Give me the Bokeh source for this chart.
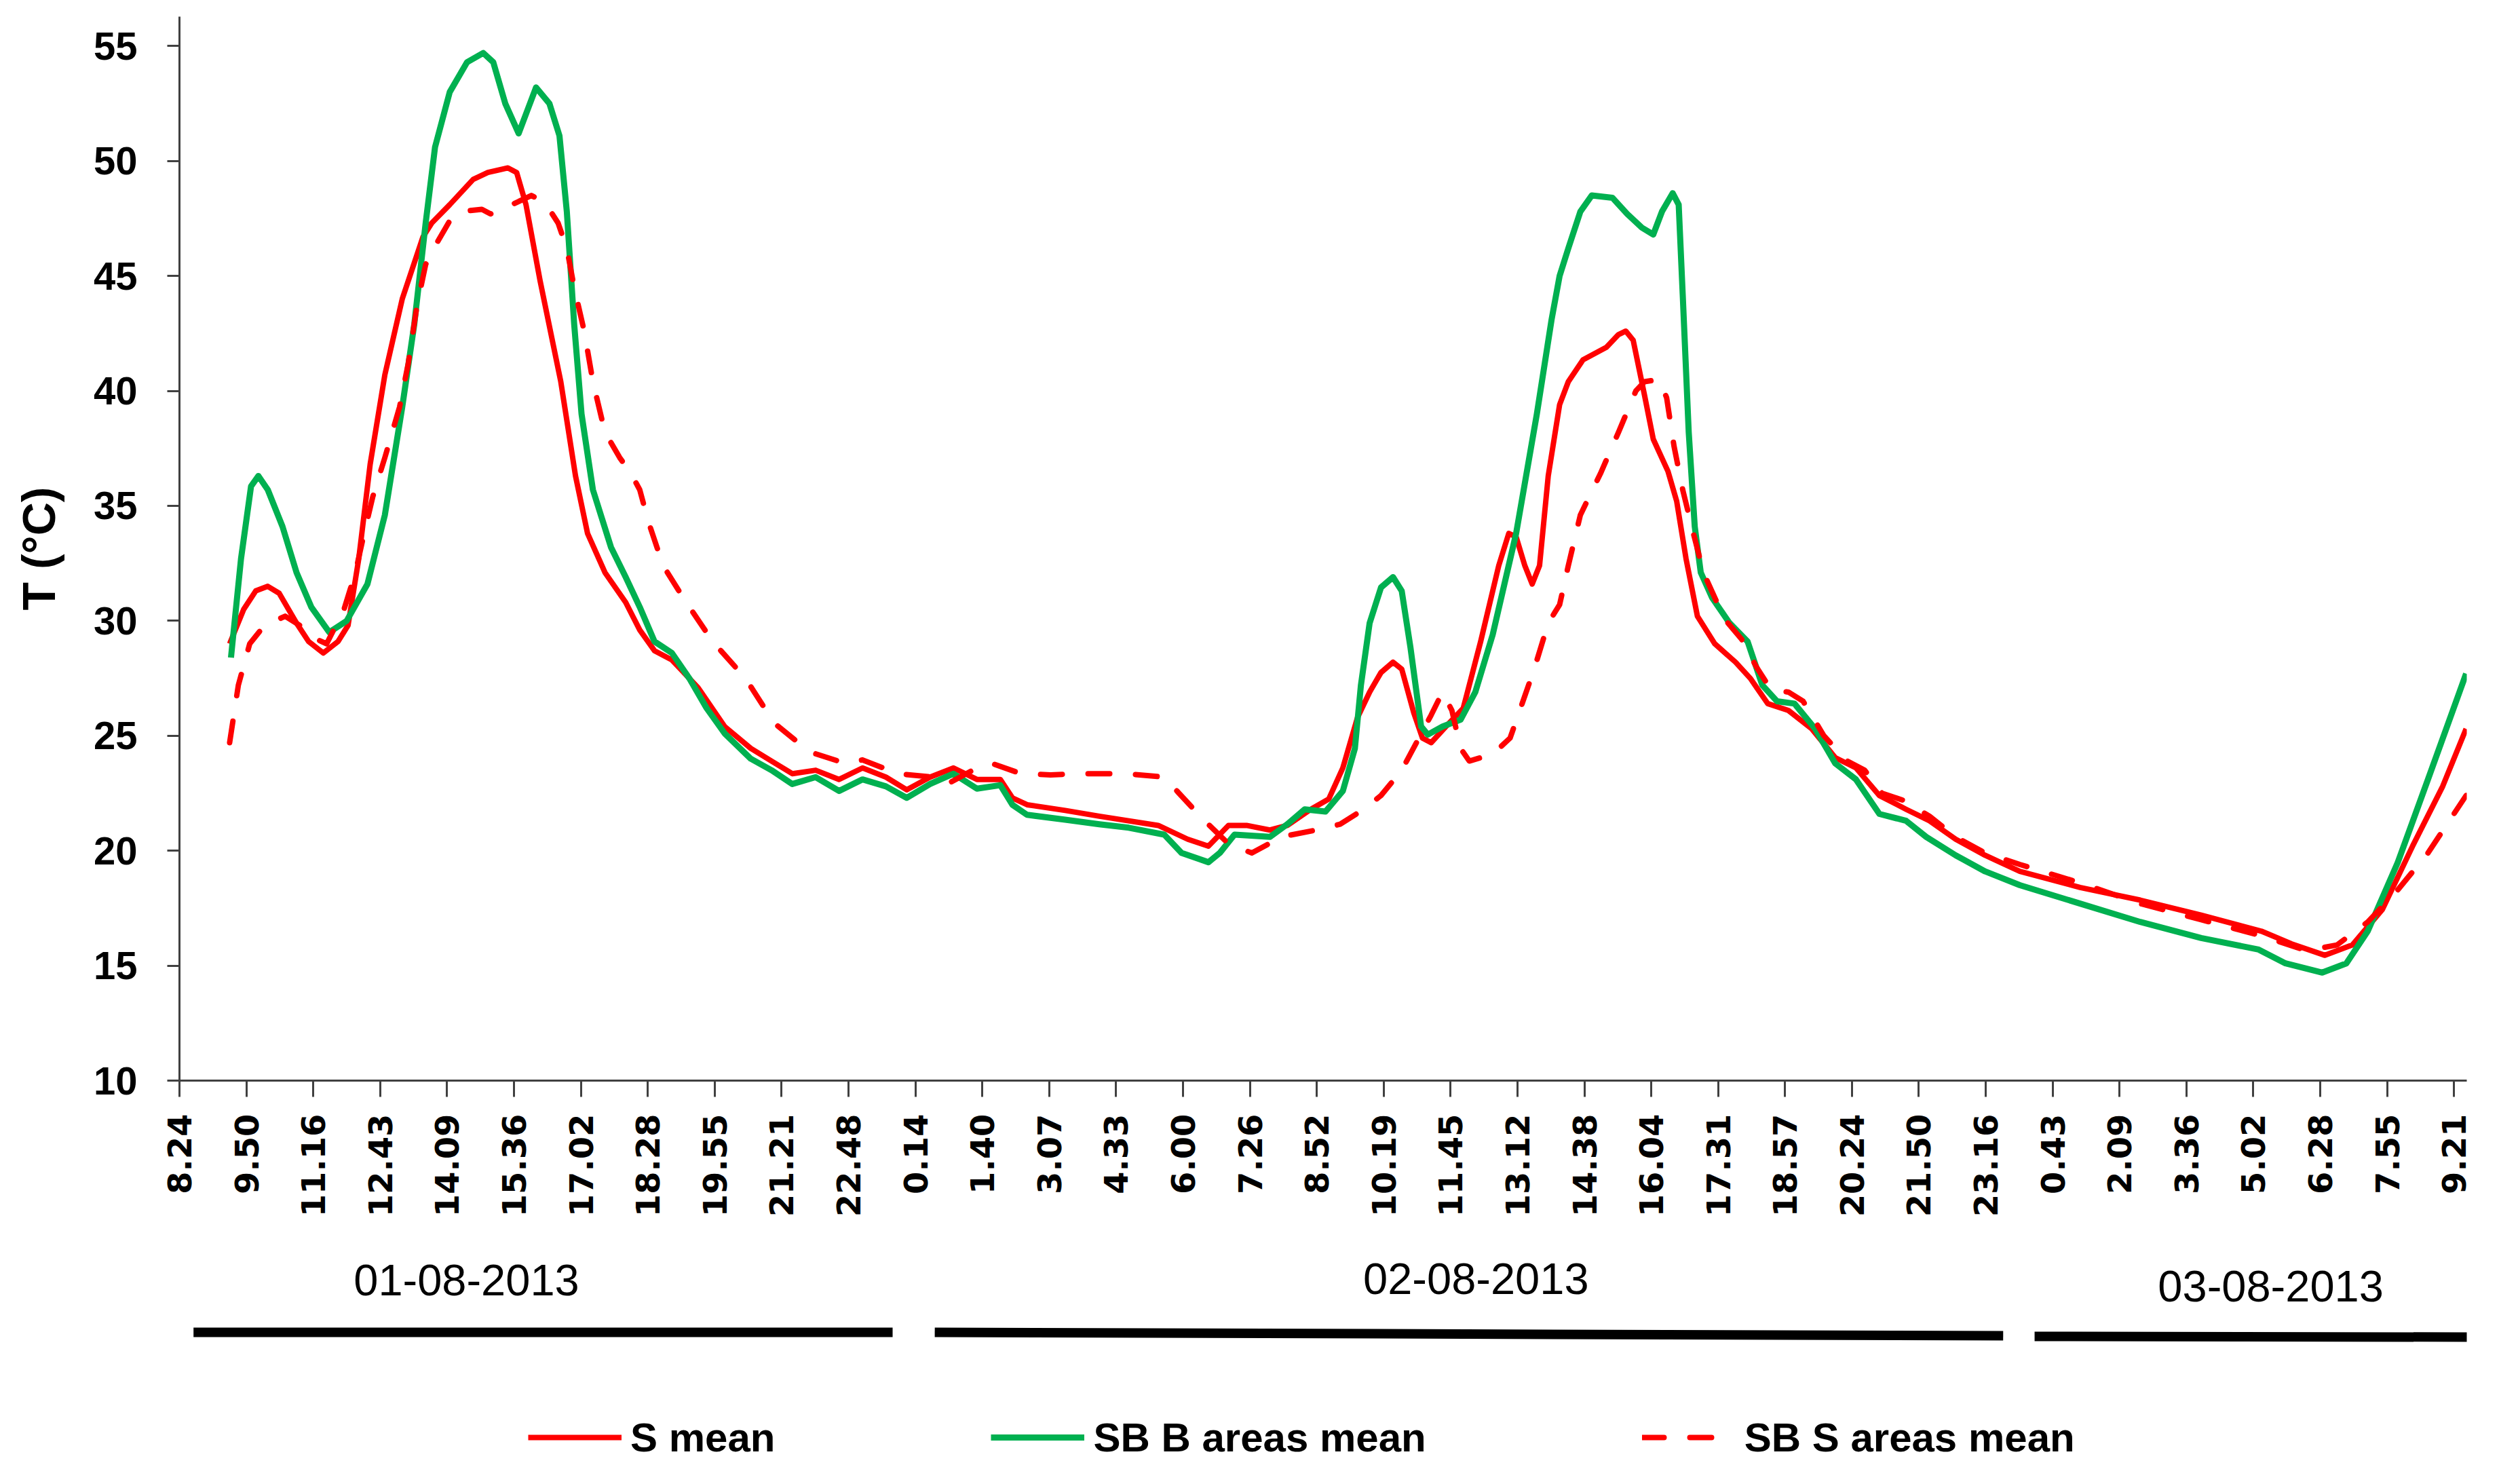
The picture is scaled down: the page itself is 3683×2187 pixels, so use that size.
from math import pi
from bokeh.plotting import figure
from bokeh.models import Range1d, FixedTicker, Legend, LegendItem, ColumnDataSource
from bokeh.layouts import column
from bokeh.embed import file_html
from bokeh.resources import INLINE
from bokeh.core.properties import value

# ---------------- data ----------------
# x position in units of the category-axis tick interval (tick i = label i)
tick_labels = ["8.24", "9.50", "11.16", "12.43", "14.09", "15.36", "17.02", "18.28", "19.55",
               "21.21", "22.48", "0.14", "1.40", "3.07", "4.33", "6.00", "7.26", "8.52",
               "10.19", "11.45", "13.12", "14.38", "16.04", "17.31", "18.57", "20.24",
               "21.50", "23.16", "0.43", "2.09", "3.36", "5.02", "6.28", "7.55", "9.21"]

s_mean_t = [0.75, 0.96, 1.14, 1.32, 1.49, 1.75, 1.93, 2.15, 2.37, 2.52,
            2.68, 2.85, 3.07, 3.33, 3.64, 3.77, 4.04, 4.39, 4.61, 4.91,
            5.04, 5.18, 5.39, 5.70, 5.92, 6.10, 6.36, 6.67, 6.88, 7.10,
            7.36, 7.75, 8.15, 8.54, 8.85, 9.16, 9.51, 9.86, 10.21, 10.56,
            10.87, 11.22, 11.57, 11.92, 12.27, 12.45, 12.67, 13.24, 13.75, 14.63,
            15.07, 15.38, 15.68, 15.95, 16.30, 16.56, 16.91, 17.18, 17.39, 17.61,
            17.79, 17.96, 18.14, 18.27, 18.45, 18.58, 18.71, 18.93, 19.19, 19.45,
            19.72, 19.87, 19.98, 20.11, 20.22, 20.33, 20.46, 20.63, 20.76, 20.98,
            21.33, 21.51, 21.62, 21.73, 21.90, 22.03, 22.25, 22.38, 22.52, 22.69,
            22.95, 23.26, 23.48, 23.74, 24.05, 24.40, 24.75, 25.06, 25.41, 25.81,
            26.16, 26.55, 26.99, 27.51, 28.41, 29.31, 30.22, 31.12, 31.57, 32.07,
            32.48, 32.93, 33.38, 33.83, 34.18]
s_mean_v = [29.0, 30.5, 31.3, 31.5, 31.2, 29.9, 29.1, 28.6, 29.1, 29.8,
            32.7, 36.8, 40.7, 44.0, 46.7, 47.3, 48.1, 49.2, 49.5, 49.7,
            49.5, 48.1, 44.8, 40.4, 36.3, 33.8, 32.1, 30.8, 29.6, 28.7,
            28.3, 27.1, 25.4, 24.45, 23.9, 23.35, 23.5, 23.1, 23.6, 23.2,
            22.65, 23.2, 23.6, 23.1, 23.1, 22.3, 22.0, 21.75, 21.5, 21.1,
            20.5, 20.2, 21.1, 21.1, 20.9, 21.1, 21.8, 22.25, 23.6, 25.8,
            26.9, 27.75, 28.2, 27.9, 26.0, 24.9, 24.7, 25.4, 26.2, 29.1,
            32.4, 33.8, 33.65, 32.4, 31.6, 32.4, 36.3, 39.4, 40.4, 41.35,
            41.9, 42.45, 42.6, 42.2, 39.8, 37.9, 36.5, 35.2, 32.7, 30.2,
            29.0, 28.2, 27.5, 26.4, 26.1, 25.3, 24.05, 23.6, 22.4, 21.8,
            21.3, 20.5, 19.8, 19.1, 18.4, 17.85, 17.2, 16.5, 15.95, 15.45,
            15.9, 17.45, 20.2, 22.8, 25.3]

sbb_t = [0.77, 0.92, 1.07, 1.18, 1.32, 1.54, 1.75, 1.97, 2.24, 2.50,
         2.81, 3.07, 3.33, 3.51, 3.68, 3.82, 4.04, 4.30, 4.54, 4.69,
         4.87, 5.07, 5.20, 5.33, 5.53, 5.68, 5.79, 5.90, 6.01, 6.18,
         6.45, 6.67, 6.88, 7.10, 7.36, 7.62, 7.88, 8.15, 8.54, 8.85,
         9.16, 9.51, 9.86, 10.21, 10.56, 10.87, 11.22, 11.57, 11.92, 12.27,
         12.45, 12.67, 13.24, 13.75, 14.19, 14.72, 14.98, 15.38, 15.55, 15.77,
         16.30, 16.56, 16.82, 17.13, 17.39, 17.57, 17.66, 17.79, 17.96, 18.14,
         18.27, 18.40, 18.56, 18.66, 18.88, 19.15, 19.37, 19.63, 19.98, 20.29,
         20.51, 20.63, 20.76, 20.94, 21.11, 21.42, 21.64, 21.86, 22.03, 22.16,
         22.32, 22.41, 22.47, 22.56, 22.65, 22.74, 22.91, 23.17, 23.44, 23.66,
         23.88, 24.14, 24.45, 24.75, 25.06, 25.41, 25.81, 26.11, 26.55, 26.99,
         27.51, 28.41, 29.31, 30.22, 31.08, 31.48, 32.03, 32.39, 32.71, 33.16,
         33.61, 34.18]
sbb_v = [28.4, 32.7, 35.85, 36.3, 35.7, 34.1, 32.1, 30.6, 29.5, 30.0,
         31.6, 34.6, 39.3, 42.9, 47.3, 50.6, 53.0, 54.3, 54.7, 54.3,
         52.5, 51.2, 52.2, 53.2, 52.5, 51.1, 47.8, 42.9, 39.0, 35.7,
         33.2, 31.9, 30.6, 29.1, 28.6, 27.5, 26.2, 25.1, 24.0, 23.5,
         22.9, 23.2, 22.6, 23.1, 22.8, 22.3, 22.9, 23.35, 22.7, 22.85,
         22.0, 21.56, 21.35, 21.15, 21.0, 20.7, 19.9, 19.5, 19.9, 20.7,
         20.6, 21.15, 21.8, 21.7, 22.6, 24.45, 27.2, 29.9, 31.45, 31.9,
         31.3, 28.85, 25.4, 25.05, 25.4, 25.7, 26.9, 29.4, 33.8, 39.0,
         43.1, 45.0, 46.2, 47.8, 48.5, 48.4, 47.7, 47.1, 46.8, 47.8,
         48.6, 48.1, 44.2, 38.2, 34.1, 32.1, 31.0, 29.9, 29.1, 27.2,
         26.5, 26.4, 25.3, 23.8, 23.1, 21.6, 21.3, 20.6, 19.8, 19.1,
         18.5, 17.7, 16.9, 16.2, 15.7, 15.1, 14.7, 15.1, 16.5, 19.5,
         23.1, 27.7]

sbs_t = [0.75, 0.88, 1.05, 1.27, 1.58, 1.80, 1.97, 2.20, 2.46, 2.63,
         2.76, 2.89, 3.07, 3.29, 3.42, 3.55, 3.68, 3.82, 4.04, 4.21,
         4.52, 4.65, 4.82, 5.04, 5.26, 5.46, 5.66, 5.79, 5.90, 6.05,
         6.18, 6.36, 6.58, 6.75, 6.88, 7.01, 7.23, 7.53, 7.97, 8.46,
         8.89, 9.42, 9.95, 10.21, 10.74, 11.26, 11.48, 11.92, 12.14, 12.58,
         13.02, 13.46, 14.15, 14.72, 14.94, 15.29, 15.68, 16.03, 16.47, 16.99,
         17.35, 17.70, 17.96, 18.27, 18.49, 18.71, 18.88, 19.02, 19.15, 19.28,
         19.63, 19.89, 20.07, 20.25, 20.46, 20.63, 20.76, 20.94, 21.24, 21.51,
         21.77, 21.90, 22.12, 22.23, 22.34, 22.47, 22.63, 22.78, 23.09, 23.35,
         23.57, 23.79, 24.05, 24.27, 24.58, 24.93, 25.19, 25.45, 25.76, 26.16,
         26.55, 26.99, 27.51, 28.41, 29.31, 30.22, 31.12, 31.80, 32.25, 32.71,
         33.16, 33.61, 34.18]
sbs_v = [24.7, 27.2, 29.0, 29.8, 30.2, 29.8, 29.3, 29.0, 30.5, 32.1,
         33.8, 35.4, 37.1, 39.3, 41.2, 43.7, 45.5, 46.3, 47.4, 47.8,
         47.9, 47.7, 47.9, 48.2, 48.5, 48.2, 47.3, 46.2, 44.5, 42.6,
         40.4, 38.2, 37.1, 36.4, 35.7, 34.3, 32.4, 31.0, 29.1, 27.5,
         25.55, 24.3, 23.8, 23.95, 23.35, 23.2, 22.9, 23.6, 23.8, 23.35,
         23.3, 23.35, 23.35, 23.2, 22.5, 21.4, 20.3, 19.9, 20.6, 20.9,
         21.15, 21.8, 22.4, 23.5, 24.7, 25.9, 26.9, 26.1, 24.45, 23.9,
         24.2, 24.9, 26.4, 27.9, 29.9, 30.7, 32.4, 34.6, 36.4, 38.2,
         40.0, 40.4, 40.5, 39.7, 37.6, 35.7, 33.8, 32.1, 30.1, 29.2,
         28.0, 27.0, 26.9, 26.5, 25.0, 23.9, 23.5, 22.5, 22.2, 21.5,
         20.6, 19.9, 19.4, 18.6, 17.7, 17.0, 16.3, 15.65, 15.9, 16.9,
         18.3, 19.9, 22.4]

series_names = ["S mean", "SB B areas mean", "SB S areas mean"]

day_labels = ["01-08-2013", "02-08-2013", "03-08-2013"]
day_label_t = [4.29, 19.38, 31.26]
day_start_t = [0.21, 11.29, 27.73]
day_end_t = [10.66, 27.26, 34.20]

y_ticks = [10, 15, 20, 25, 30, 35, 40, 45, 50, 55]

# ---------------- styling ----------------
RED = "#FF0000"
GREEN = "#00B050"
AXIS = "#404040"
W = 3667

p1 = figure(width=W, height=1800, output_backend="svg", toolbar_location=None,
            x_range=Range1d(0, 34.19), y_range=Range1d(10, 56.28),
            min_border_left=264, min_border_right=32, min_border_top=24,
            min_border_bottom=208)
p1.grid.visible = False
p1.outline_line_color = None

xa = p1.xaxis[0]
xa.ticker = FixedTicker(ticks=list(range(len(tick_labels))))
xa.major_label_overrides = {i: lab for i, lab in enumerate(tick_labels)}
xa.major_label_orientation = pi / 2
xa.major_label_text_font = "DejaVu Sans"
xa.major_label_text_font_style = "bold"
xa.major_label_text_font_size = "48px"
xa.major_label_text_color = "black"
xa.major_label_standoff = 25
xa.major_tick_out = 24
xa.major_tick_in = 0
xa.minor_tick_line_color = None
xa.axis_line_color = AXIS
xa.axis_line_width = 3
xa.major_tick_line_color = AXIS
xa.major_tick_line_width = 3

ya = p1.yaxis[0]
ya.ticker = FixedTicker(ticks=y_ticks)
ya.major_label_text_font = "Liberation Sans"
ya.major_label_text_font_style = "bold"
ya.major_label_text_font_size = "58px"
ya.major_label_text_color = "black"
ya.major_label_standoff = 44
ya.major_tick_out = 18
ya.major_tick_in = 0
ya.minor_tick_line_color = None
ya.axis_line_color = AXIS
ya.axis_line_width = 3
ya.major_tick_line_color = AXIS
ya.major_tick_line_width = 3
ya.axis_label = "T (°C)"
ya.axis_label_text_font = "Liberation Sans"
ya.axis_label_text_font_style = "bold"
ya.axis_label_text_font_size = "68px"
ya.axis_label_text_color = "black"
ya.axis_label_standoff = 40

src1 = ColumnDataSource(dict(t=s_mean_t, v=s_mean_v))
src2 = ColumnDataSource(dict(t=sbb_t, v=sbb_v))
src3 = ColumnDataSource(dict(t=sbs_t, v=sbs_v))
p1.line("t", "v", source=src1, line_color=RED, line_width=8, line_join="round")
p1.line("t", "v", source=src2, line_color=GREEN, line_width=9, line_join="round")
p1.line("t", "v", source=src3, line_color=RED, line_width=8, line_join="round",
        line_dash="32 38", line_cap="round")

# ---------------- lower panel: day spans and legend ----------------
p2 = figure(width=W, height=371, output_backend="svg", toolbar_location=None,
            x_range=p1.x_range, y_range=Range1d(371, 0),
            x_axis_location=None, y_axis_location=None,
            min_border_left=264, min_border_right=32, min_border_top=0,
            min_border_bottom=0)
p2.grid.visible = False
p2.outline_line_color = None

p2.text(x=day_label_t, y=[86, 84, 95], text=day_labels,
        text_font=value("Liberation Sans"), text_font_size="65px",
        text_align="center", text_baseline="middle", text_color="black")
p2.segment(x0=day_start_t, y0=[163, 163, 169], x1=day_end_t, y1=[163, 168, 170],
           line_color="black", line_width=14, line_cap="butt")

# legend-only renderers (a single point draws no visible line)
l1 = p2.line(x=[0], y=[0], line_color=RED, line_width=8)
l2 = p2.line(x=[0], y=[0], line_color=GREEN, line_width=9)
l3 = p2.line(x=[0], y=[0], line_color=RED, line_width=8, line_dash="32 38", line_cap="round")
legend = Legend(items=[LegendItem(label=series_names[0], renderers=[l1]),
                       LegendItem(label=series_names[1], renderers=[l2]),
                       LegendItem(label=series_names[2], renderers=[l3])],
                orientation="horizontal", location=(514, 18),
                glyph_width=138, glyph_height=70, label_height=70,
                label_standoff=13, spacing=318, padding=0, margin=0,
                border_line_color=None, background_fill_alpha=0,
                label_text_font="Liberation Sans", label_text_font_style="bold",
                label_text_font_size="60px", label_text_color="black")
p2.add_layout(legend)

layout = column(p1, p2)
open("out.html", "w").write(file_html(layout, INLINE))
